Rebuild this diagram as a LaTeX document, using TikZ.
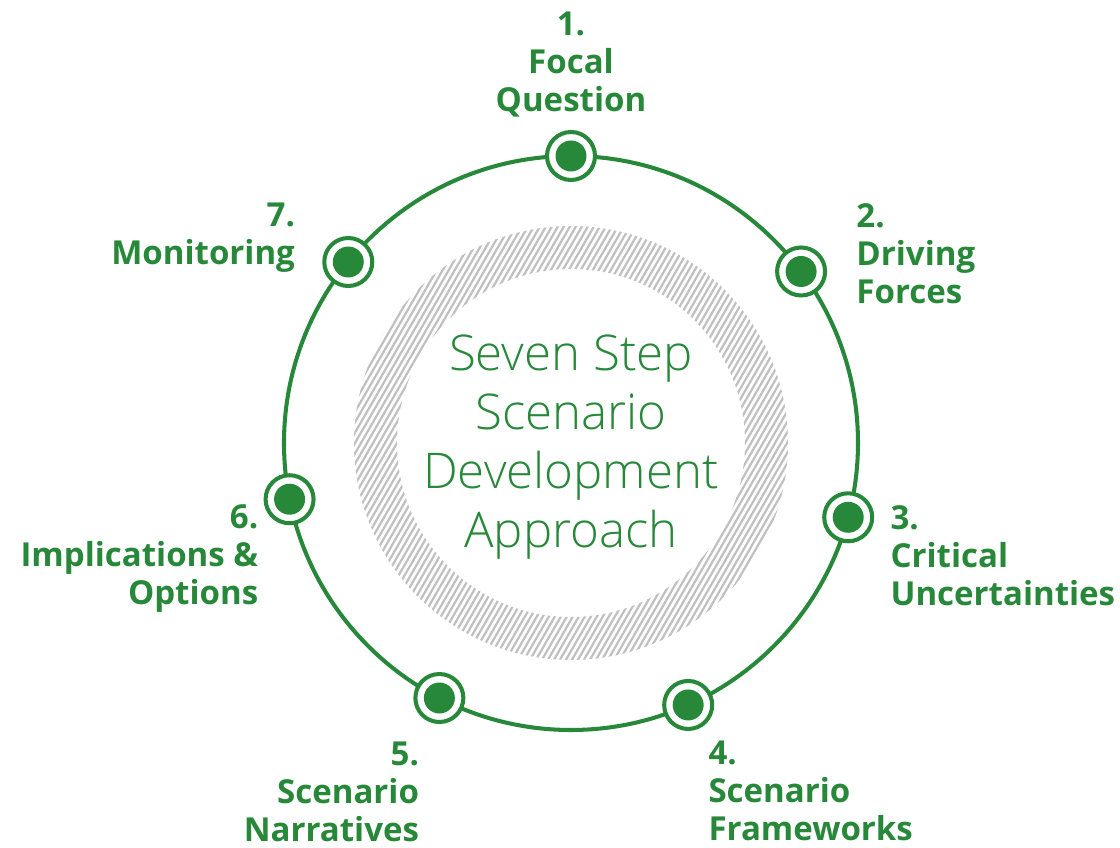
\documentclass[tikz,border=0pt]{standalone}
\usepackage{fontspec}
\setmainfont{Open Sans}
\newfontfamily\lightfont{Open Sans}[UprightFont=* Light]
\usetikzlibrary{positioning}
\definecolor{sgreen}{RGB}{38,136,56}
\definecolor{hatchgray}{RGB}{192,192,192}
\tikzstyle{stage} = [circle, draw=sgreen, fill=white, line width=2.3pt, minimum size=0.96cm, inner sep=0pt,
	path picture={\fill[sgreen] (path picture bounding box.center) circle (0.31cm);}]
\tikzstyle{steplabel} = [text=sgreen, font=\bfseries\fontsize{18.8}{21.6}\selectfont, inner sep=0pt]
\tikzstyle{hatch} = [hatchgray, line width=1.25pt]

\begin{document}
\begin{tikzpicture}[x=0.02cm,y=0.02cm]
		\useasboundingbox (-571,-405) rectangle (549,443);
		
		% Hatched ring round the title
		\begin{scope}[even odd rule]
			\clip (0,0) circle (217) (0,0) circle (174);
			\foreach \i in {-65,...,65}
			\draw[hatch] (\i*6-150,-260) -- (\i*6+150,260);
		\end{scope}
		
		% The cycle
		\draw[sgreen, line width=2.3pt] (0,0) circle (287);
		
		% First we draw the steps
		\foreach \ang/\name in {90/s1, 36.7/s2, -15/s3, -65.9/s4, -117.3/s5, -168.7/s6, 140.9/s7}
		\node[stage] (\name) at (\ang:287) {};
		
		% Title
		\node[text=sgreen, font=\lightfont\fontsize{28}{33.6}\selectfont, align=center] (title) at (0,-4)
		{Seven Step\\Scenario\\Development\\Approach};
		
		% Labels above and right of the steps
		\node[steplabel, anchor=north, align=center] (l1) at ([shift={(0,144)}]s1) {1.\\Focal\\Question};
		\node[steplabel, anchor=north west, align=left] (l2) at ([shift={(55,68)}]s2) {2.\\Driving\\Forces};
		\node[steplabel, anchor=north west, align=left] (l3) at ([shift={(42,12)}]s3) {3.\\Critical\\Uncertainties};
		\node[steplabel, anchor=north west, align=left] (l4) at ([shift={(20,-36)}]s4) {4.\\Scenario\\Frameworks};
		
		% Labels left of the steps
		\node[steplabel, anchor=north east, align=right] (l5) at ([shift={(-20,-44)}]s5) {5.\\Scenario\\Narratives};
		\node[steplabel, anchor=north east, align=right] (l6) at ([shift={(-31,-5)}]s6) {6.\\Implications \&\\Options};
		\node[steplabel, anchor=north east, align=right] (l7) at ([shift={(-53,59)}]s7) {7.\\Monitoring};
		
\end{tikzpicture}
\end{document}
